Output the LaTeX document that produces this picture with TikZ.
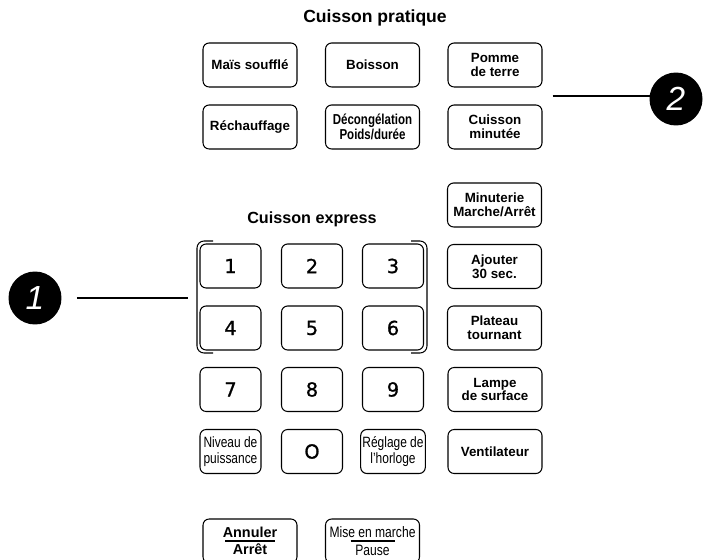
\documentclass[tikz,border=0pt]{standalone}
\usepackage{fontspec}
\setmainfont{Liberation Sans}
\newfontfamily\digitfont[FakeBold=0.9]{DejaVu Sans}
\newfontfamily\narrowfont[FakeStretch=0.8]{Liberation Sans}
\usetikzlibrary{calc}

\tikzset{
  key/.style={draw, line width=0.6pt, rounded corners=3.5pt, minimum width=1.88cm,
    minimum height=0.88cm, inner sep=1pt, align=center,
    font=\fontsize{7.6}{7.8}\selectfont\bfseries},
  numkey/.style={key, minimum width=1.22cm, font=\digitfont\fontsize{11}{13}\selectfont},
  narrowkey/.style={key, minimum width=1.22cm, font=\narrowfont\fontsize{8.5}{8.8}\selectfont},
  heading/.style={font=\fontsize{10}{11}\selectfont\bfseries},
  callout/.style={circle, fill=black, minimum size=1.06cm, inner sep=0pt, text=white,
    font=\itshape\fontsize{19}{19}\selectfont},
  leader/.style={line width=1.1pt}
}

\begin{document}
\begin{tikzpicture}[x=0.02cm, y=-0.02cm]
\useasboundingbox (0,0) rectangle (703,560);
\clip (0,0) rectangle (703,560);

% Cuisson pratique
\node[heading] (tpratique) at (375,18) {Cuisson pratique};
\node[key] (mais) at (250,65) {Maïs soufflé};
\node[key] (boisson) at (372.5,65) {Boisson};
\node[key] (pomme) at (495,65) {Pomme\\de terre};
\node[key] (rechauf) at (250,127) {Réchauffage};
\node[key, font=\narrowfont\fontsize{8.2}{8.4}\selectfont\bfseries] (decong) at (372.5,127) {Décongélation\\Poids/durée};
\node[key] (cminute) at (495,127) {Cuisson\\minutée};

% colonne de droite
\node[key] (minuterie) at (494.5,205) {Minuterie\\Marche/Arrêt};
\node[key] (ajouter) at (494.5,266.5) {Ajouter\\30 sec.};
\node[key] (plateau) at (494.5,328) {Plateau\\tournant};
\node[key] (lampe) at (495,389.5) {Lampe\\de surface};
\node[key] (ventil) at (495,451.5) {Ventilateur};

% Cuisson express
\node[heading, font=\fontsize{9.2}{11}\selectfont\bfseries] (texpress) at (312,219) {Cuisson express};
\node[numkey] (k1) at (230.5,266) {1};
\node[numkey] (k2) at (312,266) {2};
\node[numkey] (k3) at (393,266) {3};
\node[numkey] (k4) at (230.5,328) {4};
\node[numkey] (k5) at (312,328) {5};
\node[numkey] (k6) at (393,328) {6};
\node[numkey] (k7) at (230.5,389.5) {7};
\node[numkey] (k8) at (312,389.5) {8};
\node[numkey] (k9) at (393,389.5) {9};
\node[narrowkey] (niveau) at (230.5,451.5) {Niveau de\\puissance};
\node[numkey] (k0) at (312,451.5) {O};
\node[narrowkey] (reglage) at (393,451.5) {Réglage de\\l’horloge};

\draw[line width=0.6pt, rounded corners=4pt] (213,241) -- (197,241) -- (197,353) -- (213,353);
\draw[line width=0.6pt, rounded corners=4pt] (411,241) -- (427,241) -- (427,353) -- (411,353);
\coordinate (padl) at (197,298);

% touches du bas
\node[key, font=\fontsize{8.2}{10}\selectfont\bfseries] (annuler) at (250,541) {Annuler\\Arrêt};
\draw[line width=0.6pt] ($(annuler.center)+(-25,0)$) -- ($(annuler.center)+(25,0)$);
\node[key, font=\narrowfont\fontsize{8.6}{10}\selectfont] (mise) at (372.5,541) {Mise en marche\\Pause};
\draw[line width=0.6pt] ($(mise.center)+(-22,0)$) -- ($(mise.center)+(22,0)$);

% reperes
\node[callout] (c1) at (35,298) {1};
\node[callout] (c2) at (676,99) {2};
\coordinate (grp) at ($(pomme.south east)!0.5!(cminute.north east)$);
\draw[leader, shorten <=0.3cm, shorten >=0.18cm] (c1) -- (padl);
\draw[leader, shorten <=0.2cm, shorten >=0.26cm] (grp) -- (grp -| c2);
\end{tikzpicture}
\end{document}
